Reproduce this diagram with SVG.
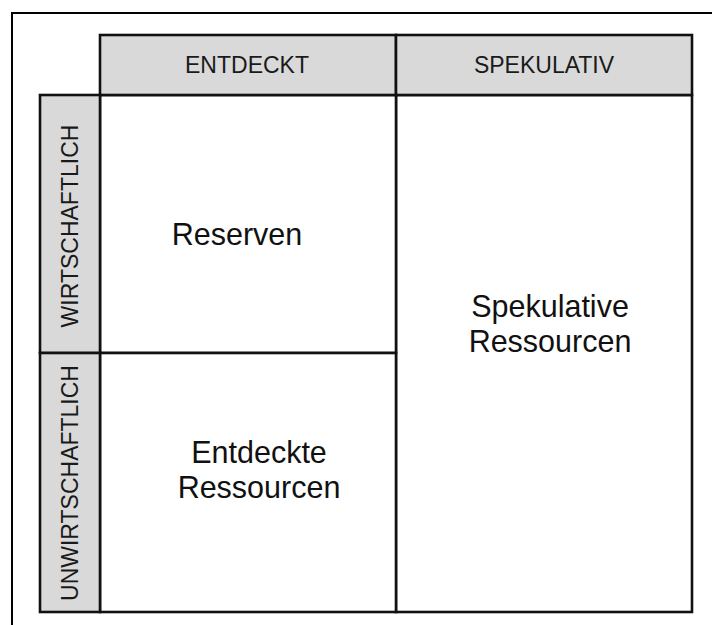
<svg xmlns="http://www.w3.org/2000/svg" width="712" height="625" viewBox="0 0 712 625">
  <style>
    .frame { fill: none; stroke: #000; stroke-width: 2; }
    .head { fill: #d9d9d9; stroke: #111; stroke-width: 2.6; }
    .cell { fill: #fff; stroke: #111; stroke-width: 2.6; }
    .hlabel { font-family: "Liberation Sans", Arial, sans-serif; font-size: 23px; fill: #1a1a1a; text-anchor: middle; }
    .clabel { font-family: "Liberation Sans", Arial, sans-serif; font-size: 30.5px; fill: #111; text-anchor: middle; }
  </style>
  <rect width="712" height="625" fill="#fff"/>
  <!-- page frame: top and left edges only -->
  <path class="frame" d="M12 625 V13 H712"/>

  <g id="cell-spekulative">
    <rect class="cell" x="396" y="95" width="296" height="517"/>
    <text class="clabel" x="550" y="317">Spekulative</text>
    <text class="clabel" x="550" y="352">Ressourcen</text>
  </g>
  <g id="cell-reserven">
    <rect class="cell" x="100" y="95" width="296" height="258"/>
    <text class="clabel" x="237" y="245">Reserven</text>
  </g>
  <g id="cell-entdeckte">
    <rect class="cell" x="100" y="353" width="296" height="259"/>
    <text class="clabel" x="259" y="463">Entdeckte</text>
    <text class="clabel" x="259" y="498">Ressourcen</text>
  </g>

  <g id="head-entdeckt">
    <rect class="head" x="100" y="35" width="296" height="60"/>
    <text class="hlabel" x="247" y="73">ENTDECKT</text>
  </g>
  <g id="head-spekulativ">
    <rect class="head" x="396" y="35" width="296" height="60"/>
    <text class="hlabel" x="544" y="73">SPEKULATIV</text>
  </g>
  <g id="head-wirtschaftlich">
    <rect class="head" x="40" y="95" width="60" height="258"/>
    <text class="hlabel" transform="translate(78 226) rotate(-90)">WIRTSCHAFTLICH</text>
  </g>
  <g id="head-unwirtschaftlich">
    <rect class="head" x="40" y="353" width="60" height="259"/>
    <text class="hlabel" transform="translate(78 483) rotate(-90)">UNWIRTSCHAFTLICH</text>
  </g>
</svg>
